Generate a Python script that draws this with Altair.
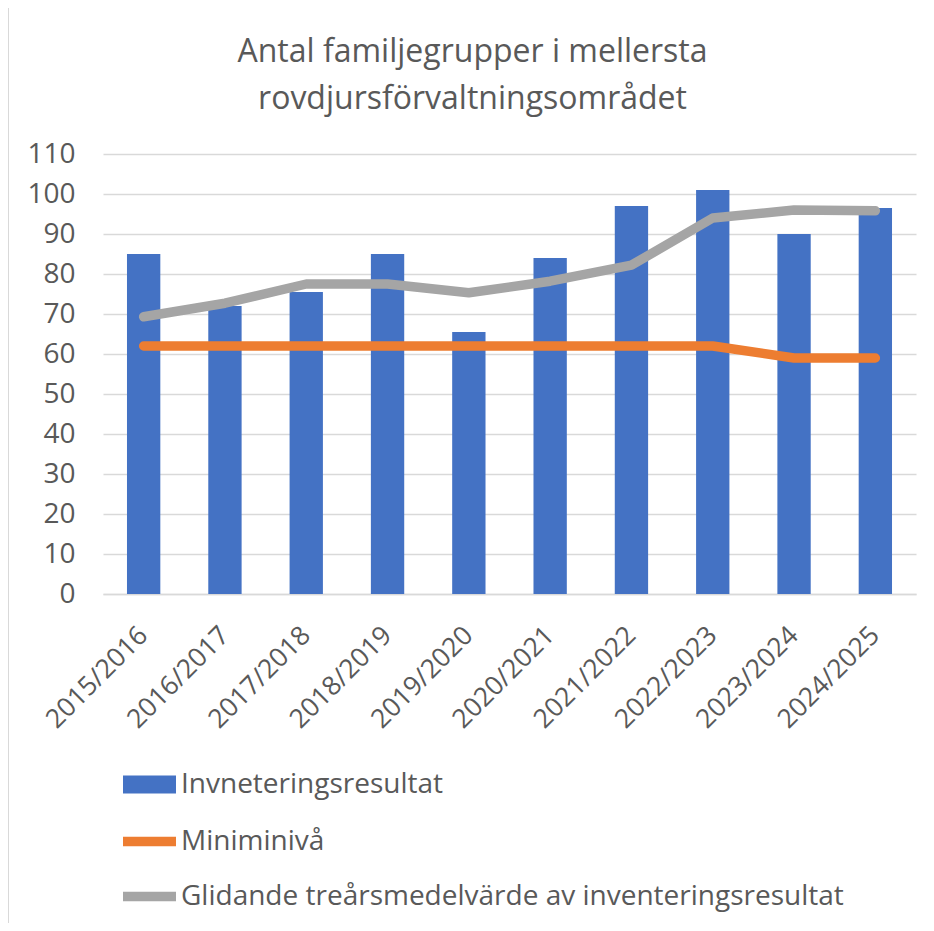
import altair as alt
import pandas as pd

periods = ["2015/2016", "2016/2017", "2017/2018", "2018/2019", "2019/2020",
           "2020/2021", "2021/2022", "2022/2023", "2023/2024", "2024/2025"]
inventering = [85, 72, 75.5, 85, 65.5, 84, 97, 101, 90, 96.5]
miniminiva = [62, 62, 62, 62, 62, 62, 62, 62, 59, 59]
glidande = [69.3, 72.7, 77.5, 77.5, 75.3, 78.2, 82.2, 94, 96, 95.8]

bar_name = "Invneteringsresultat"
min_name = "Miniminivå"
avg_name = "Glidande treårsmedelvärde av inventeringsresultat"

bars_df = pd.DataFrame({"period": periods, "value": inventering, "series": bar_name})
lines_df = pd.concat([
    pd.DataFrame({"period": periods, "value": miniminiva, "series": min_name}),
    pd.DataFrame({"period": periods, "value": glidande, "series": avg_name}),
])

FONT = "Open Sans"
TXT = "#595959"

x_enc = alt.X("period:N", sort=periods,
              scale=alt.Scale(type="band", paddingInner=0, paddingOuter=0),
              axis=alt.Axis(title=None, labelAngle=-45, labelFontSize=26.5, labelFont=FONT,
                            labelColor=TXT, ticks=False, domainColor="#D9D9D9",
                            domainWidth=1.5, labelPadding=37, labelAlign="right",
                            labelBaseline="middle"))
y_enc = alt.Y("value:Q",
              scale=alt.Scale(domain=[0, 110], nice=False),
              axis=alt.Axis(title=None, values=list(range(0, 111, 10)), labelFontSize=28,
                            labelFont=FONT, labelColor=TXT, ticks=False, domain=False,
                            gridColor="#D9D9D9", gridWidth=1.5, labelPadding=28))

bars = alt.Chart(bars_df).mark_bar(width={"band": 0.41}, color="#4472C4").encode(
    x=x_enc, y=y_enc,
    fill=alt.Fill("series:N", scale=alt.Scale(domain=[bar_name], range=["#4472C4"]),
                  legend=alt.Legend(title=None, orient="none", legendX=20, legendY=604,
                                    symbolType="M-1,-0.34H1V0.34H-1Z", symbolSize=2809,
                                    labelFontSize=28, labelFont=FONT, labelColor=TXT,
                                    labelOffset=5, symbolStrokeWidth=0, labelLimit=1000)),
)

lines = alt.Chart(lines_df).mark_line(strokeWidth=9.5, strokeCap="round", strokeJoin="round").encode(
    x=x_enc, y=y_enc,
    stroke=alt.Stroke("series:N",
                      scale=alt.Scale(domain=[min_name, avg_name], range=["#ED7D31", "#A5A5A5"]),
                      legend=alt.Legend(title=None, orient="none", legendX=15, legendY=656,
                                        symbolType="stroke", symbolSize=2809,
                                        symbolStrokeWidth=9.5, rowPadding=4,
                                        labelFontSize=28, labelFont=FONT, labelColor=TXT,
                                        labelOffset=0, labelLimit=1000)),
    detail="series:N",
)

border = alt.Chart(bars_df).mark_rule(color="#D9D9D9", strokeWidth=2, clip=False).encode(
    x=alt.value(-95), y=alt.value(-146), y2=alt.value(772)
)

chart = alt.layer(border, bars, lines).resolve_scale(fill="independent", stroke="independent").properties(
    width=813, height=440,
    autosize=alt.AutoSizeParams(type="none"),
    padding={"left": 95, "top": 146, "right": 10, "bottom": 329},
    title=alt.Title(["Antal familjegrupper i mellersta", "rovdjursförvaltningsområdet"],
                    font=FONT, fontSize=32, fontWeight="normal", color=TXT,
                    anchor="middle", frame="group", dx=-37, lineHeight=47, offset=-109),
).configure_view(stroke=None)

chart.save("out.html", embed_options={"renderer": "svg", "actions": False})
